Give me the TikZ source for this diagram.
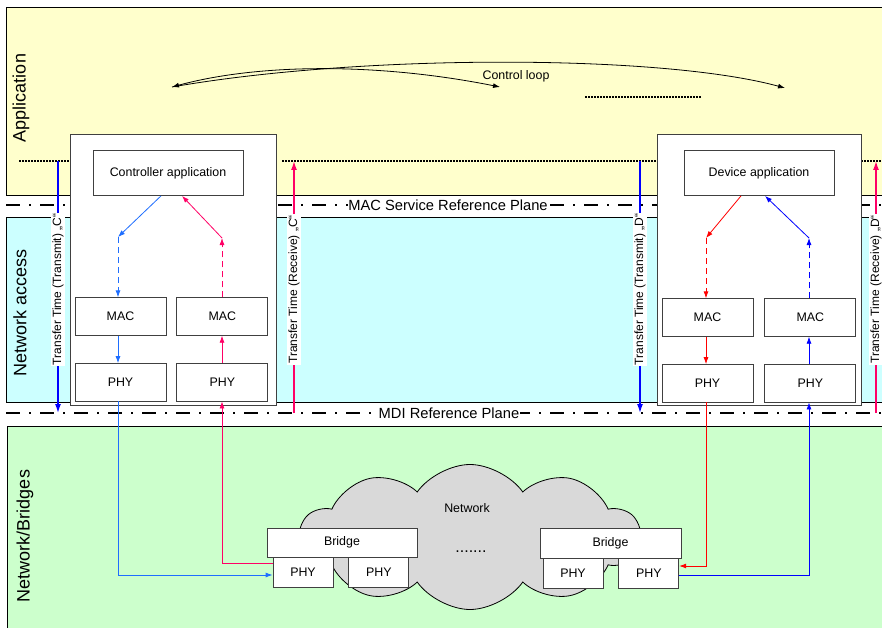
\documentclass[tikz,border=0pt]{standalone}
\usepackage{fontspec}
\setmainfont{Liberation Sans}
\usetikzlibrary{positioning,arrows.meta,shapes.symbols}

\definecolor{appyellow}{HTML}{FFFFCC}
\definecolor{accesscyan}{HTML}{CCFFFF}
\definecolor{netgreen}{HTML}{CCFFCC}
\definecolor{cblue}{HTML}{1E6EFF}
\definecolor{cpink}{HTML}{FF0066}
\definecolor{dred}{HTML}{FF0000}
\definecolor{dblue}{HTML}{0000FF}
\definecolor{boxgray}{HTML}{404040}
\definecolor{cloudgray}{HTML}{D9D9D9}

\begin{document}
\begin{tikzpicture}[x=1pt,y=-1pt,>={Latex[length=7pt,width=5pt]},
    font=\fontsize{12.4}{14}\selectfont,
    base node/.style={draw=boxgray,fill=white,line width=0.8pt,inner sep=0pt},
    app node/.style={base node,minimum width=150pt,minimum height=45pt},
    stack node/.style={base node,minimum width=91pt,minimum height=37.5pt},
    phy node/.style={base node,minimum width=60pt,minimum height=30pt},
    layer node/.style={rotate=90,font=\fontsize{18}{20}\selectfont},
    plane node/.style={fill=white,inner sep=0.5pt,font=\fontsize{14.7}{16}\selectfont},
    time node/.style={rotate=90,fill=white,text=black,inner sep=1pt,font=\fontsize{12}{14}\selectfont},
    plane line/.style={line width=2.4pt,dash pattern=on 14pt off 9pt on 2pt off 9pt},
    dot line/.style={line width=1.2pt,dash pattern=on 1.5pt off 1.5pt},
    flow/.style={->,line width=0.8pt},
    dash flow/.style={flow,dash pattern=on 6pt off 4pt},
    time line/.style={line width=1.4pt,-{Latex[length=9pt,width=6pt]}}]

\useasboundingbox (0,0) rectangle (882,628);

% layers
\fill[appyellow] (6,7) rectangle (884,195);
\draw[line width=0.8pt] (884,7) -| (6,195) -- (884,195);
\fill[accesscyan] (6,217) rectangle (884,402);
\draw[line width=0.8pt] (884,217) -| (6,402) -- (884,402);
\fill[netgreen] (7,426) rectangle (884,630);
\draw[line width=0.8pt] (884,426) -| (7,630);

\node[layer node] (app lbl) at (21,98) {Application};
\node[layer node] (acc lbl) at (20,313) {Network access};
\node[layer node] (net lbl) at (25,536) {Network/Bridges};

% dotted levels
\draw[dot line] (19,161) -- (70,161);
\draw[dot line] (282,161) -- (657,161);
\draw[dot line] (861,161) -- (884,161);
\draw[dot line] (585,97) -- (701,97);

% reference planes
\draw[plane line] (6,205) -- (884,205);
\node[plane node] (mac plane) at (448,205) {MAC Service Reference Plane};
\draw[plane line] (6,413) -- (884,413);
\node[plane node] (mdi plane) at (449,413) {MDI Reference Plane};

% control loop
\coordinate (loop l) at (172,87);
\coordinate (loop m) at (500,87);
\coordinate (loop r) at (785,88);
\draw[flow] (loop l) .. controls (360,54) and (660,54) .. (loop r);
\draw[flow,<->] (loop l) .. controls (260,63) and (380,63) .. (loop m);
\node (loop lbl) at (516,76) {Control loop};

% stations
\node[base node,minimum width=206pt,minimum height=271pt] (ctrl) at (173,269.5) {};
\node[base node,minimum width=204pt,minimum height=271pt] (dev) at (759,270) {};

\node[app node] (capp) at (168,173) {Controller application};
\node[app node] (dapp) at (759,173) {Device application};

\node[stack node] (mac1) at (120.5,316.5) {MAC};
\node[stack node,right=10pt of mac1] (mac2) {MAC};
\node[stack node,below=27.5pt of mac1] (phy1) {PHY};
\node[stack node,below=27.5pt of mac2] (phy2) {PHY};

\node[stack node] (mac3) at (707.5,317.5) {MAC};
\node[stack node,right=11pt of mac3] (mac4) {MAC};
\node[stack node,below=27.5pt of mac3] (phy3) {PHY};
\node[stack node,below=27.5pt of mac4] (phy4) {PHY};

% network
\node[cloud,cloud puffs=10,cloud puff arc=110,cloud ignores aspect,draw,fill=cloudgray,line width=0.8pt,
      minimum width=340pt,minimum height=145pt,inner sep=0pt] (net cloud) at (470,537) {};
\node (net txt) at (467,508) {Network};
\node[font=\fontsize{16}{16}\selectfont] (gap dots) at (471,552) {.......};

\node[base node,minimum width=150pt,minimum height=29pt] (bridge1) at (342,542.5) {Bridge};
\node[phy node] (bphy1) at (303,572) {PHY};
\node[phy node,right=15pt of bphy1] (bphy2) {PHY};
\node[base node,minimum width=141pt,minimum height=30pt] (bridge2) at (610.5,543) {Bridge};
\node[phy node] (bphy3) at (573,573) {PHY};
\node[phy node,right=15pt of bphy3] (bphy4) {PHY};

% controller transmit
\coordinate (ctx top) at (118,237);
\draw[flow,cblue] ([xshift=-7pt]capp.south) -- (ctx top);
\draw[dash flow,cblue] (ctx top) -- (ctx top |- mac1.north);
\draw[flow,cblue] (ctx top |- mac1.south) -- (ctx top |- phy1.north);
\draw[flow,cblue] (ctx top |- phy1.south) |- ([yshift=-3pt]bphy1.west);

% controller receive
\coordinate (crx top) at (222,238);
\draw[flow,cpink] ([yshift=9pt]bphy1.west) -| (crx top |- phy2.south);
\draw[flow,cpink] (crx top |- phy2.north) -- (crx top |- mac2.south);
\draw[dash flow,cpink] (crx top |- mac2.north) -- (crx top);
\draw[flow,cpink] (crx top) -- ([xshift=14pt]capp.south);

% device transmit
\coordinate (dtx top) at (706,238);
\draw[flow,dred] ([xshift=-18pt]dapp.south) -- (dtx top);
\draw[dash flow,dred] (dtx top) -- (dtx top |- mac3.north);
\draw[flow,dred] (dtx top |- mac3.south) -- (dtx top |- phy3.north);
\draw[flow,dred] (dtx top |- phy3.south) |- ([yshift=7pt]bphy4.east);

% device receive
\coordinate (drx top) at (809,238);
\draw[flow,dblue] ([yshift=-2pt]bphy4.east) -| (drx top |- phy4.south);
\draw[flow,dblue] (drx top |- phy4.north) -- (drx top |- mac4.south);
\draw[dash flow,dblue] (drx top |- mac4.north) -- (drx top);
\draw[flow,dblue] (drx top) -- ([xshift=6pt]dapp.south);

% transfer times
\coordinate (cttx top) at (58,161);
\coordinate (cttx bot) at (58,413);
\coordinate (ctrx top) at (294,161);
\coordinate (ctrx bot) at (294,413);
\coordinate (dttx top) at (640,161);
\coordinate (dttx bot) at (640,413);
\coordinate (dtrx top) at (876,161);
\coordinate (dtrx bot) at (876,413);
\draw[time line,dblue] (cttx top) -- (cttx bot) node[time node,pos=0.51] {Transfer Time (Transmit) „C“};
\draw[time line,cpink] (ctrx bot) -- (ctrx top) node[time node,pos=0.49] {Transfer Time (Receive) „C“};
\draw[time line,dblue] (dttx top) -- (dttx bot) node[time node,pos=0.51] {Transfer Time (Transmit) „D“};
\draw[time line,cpink] (dtrx bot) -- (dtrx top) node[time node,pos=0.49] {Transfer Time (Receive) „D“};

\end{tikzpicture}
\end{document}
